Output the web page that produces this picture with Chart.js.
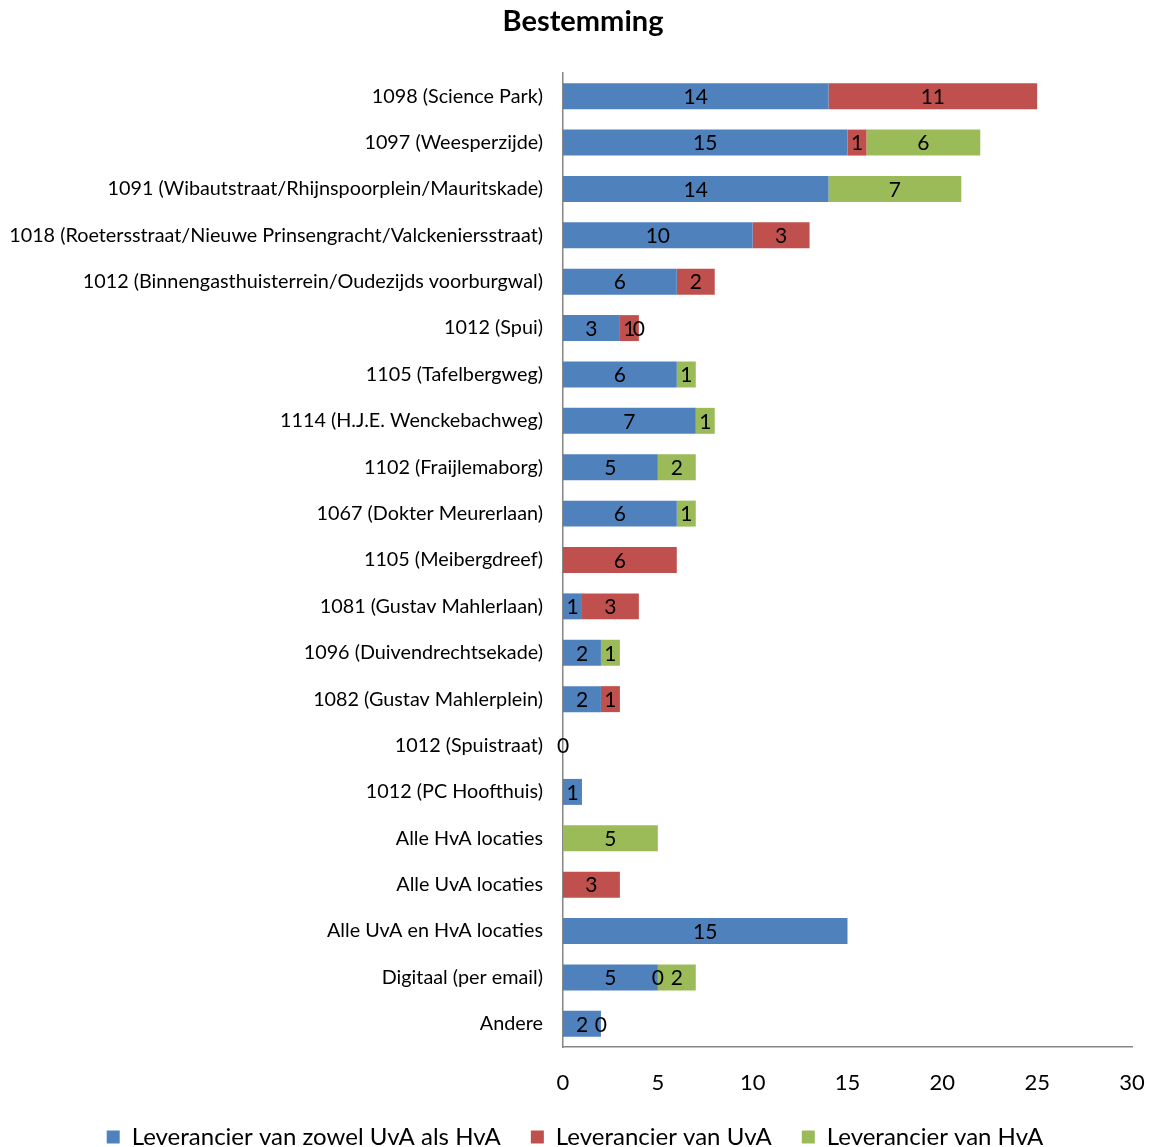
<!DOCTYPE html>
<html>
<head>
<meta charset="utf-8">
<script src="https://cdn.jsdelivr.net/npm/chart.js@4/dist/chart.umd.min.js"></script>
<style>
  html,body{margin:0;padding:0;overflow:hidden;background:#fff}
  #wrap{width:1150px;height:1159px}
</style>
</head>
<body>
<div id="wrap"><canvas id="chart"></canvas></div>
<script>
// bestemming per leverancier
const categories = [
  '1098 (Science Park)',
  '1097 (Weesperzijde)',
  '1091 (Wibautstraat/Rhijnspoorplein/Mauritskade)',
  '1018 (Roetersstraat/Nieuwe Prinsengracht/Valckeniersstraat)',
  '1012 (Binnengasthuisterrein/Oudezijds voorburgwal)',
  '1012 (Spui)',
  '1105 (Tafelbergweg)',
  '1114 (H.J.E. Wenckebachweg)',
  '1102 (Fraijlemaborg)',
  '1067 (Dokter Meurerlaan)',
  '1105 (Meibergdreef)',
  '1081 (Gustav Mahlerlaan)',
  '1096 (Duivendrechtsekade)',
  '1082 (Gustav Mahlerplein)',
  '1012 (Spuistraat)',
  '1012 (PC Hoofthuis)',
  'Alle HvA locaties',
  'Alle UvA locaties',
  'Alle UvA en HvA locaties',
  'Digitaal (per email)',
  'Andere'
];
const beide = [14,15,14,10,6,3,6,7,5,6,null,1,2,2,0,1,null,null,15,5,2];
const uva   = [11,1,null,3,2,1,null,null,null,null,6,3,null,1,null,null,null,3,null,0,0];
const hva   = [null,6,7,null,null,0,1,1,2,1,null,null,1,null,null,null,5,null,null,2,null];
const xMin = 0, xMax = 30, xStep = 5;

const FONT = 'Lato, Carlito, Calibri, sans-serif';

// getallen midden in elk segment (ook de nullen)
const valueLabels = {
  id:'valueLabels',
  afterDatasetsDraw(chart){
    const ctx = chart.ctx;
    ctx.save();
    ctx.font = '21px ' + FONT;
    ctx.fillStyle = '#000';
    ctx.textAlign = 'center';
    ctx.textBaseline = 'middle';
    chart.data.datasets.forEach((ds,di)=>{
      const meta = chart.getDatasetMeta(di);
      meta.data.forEach((el,i)=>{
        const v = ds.data[i];
        if(v===null || v===undefined) return;
        ctx.fillText(String(v),(el.x+el.base)/2,el.y+1);
      });
    });
    ctx.restore();
  }
};

// titel iets naar rechts, zoals in het origineel
const titleShift = {
  id:'titleShift',
  afterLayout(chart){
    if(chart.titleBlock){ chart.titleBlock.left = 16; chart.titleBlock.right = chart.width; }
  }
};

const ctx = document.getElementById('chart').getContext('2d');
new Chart(ctx,{
  type:'bar',
  data:{
    labels:categories,
    datasets:[
      {label:'Leverancier van zowel UvA als HvA',data:beide,backgroundColor:'#4F81BD'},
      {label:'Leverancier van UvA',data:uva,backgroundColor:'#C0504D'},
      {label:'Leverancier van HvA',data:hva,backgroundColor:'#9BBB59'}
    ]
  },
  options:{
    indexAxis:'y',
    responsive:true,
    maintainAspectRatio:false,
    animation:false,
    categoryPercentage:1,
    barPercentage:0.56,
    layout:{padding:0},
    scales:{
      x:{
        stacked:true,min:xMin,max:xMax,
        afterFit:s=>{s.height = 48; s.paddingRight = 18; s.paddingLeft = 0;},
        grid:{display:false,drawTicks:false},
        border:{display:true,color:'#868686',width:1.5},
        ticks:{stepSize:xStep,padding:23,color:'#000',maxRotation:0,font:{family:FONT,size:22}}
      },
      y:{
        stacked:true,
        afterFit:s=>{s.width = 563;},
        grid:{display:false,drawTicks:false},
        border:{display:true,color:'#868686',width:1.5},
        ticks:{padding:20,color:'#000',autoSkip:false,font:{family:FONT,size:19.8}}
      }
    },
    plugins:{
      title:{display:true,text:'Bestemming',color:'#000',
        font:{family:FONT,size:29,weight:'bold',lineHeight:1.2},
        padding:{top:4.6,bottom:33.6}},
      legend:{position:'bottom',
        labels:{color:'#000',boxWidth:13,boxHeight:13,padding:30,font:{family:FONT,size:24}}},
      tooltip:{enabled:false}
    }
  },
  plugins:[valueLabels,titleShift]
});
</script>
</body>
</html>
